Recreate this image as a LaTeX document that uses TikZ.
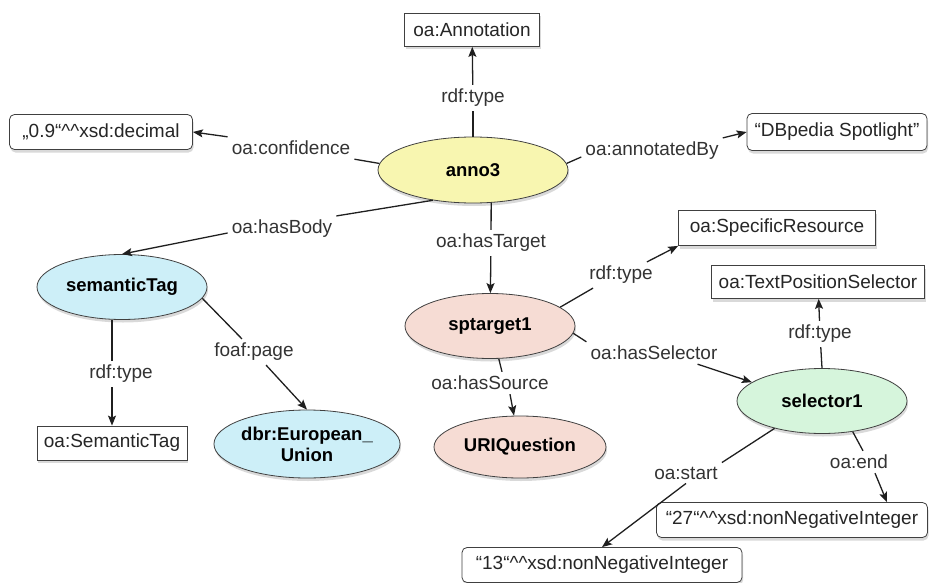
\documentclass[tikz,border=0pt]{standalone}
\usepackage{fontspec}
\setmainfont{Liberation Sans}
\usetikzlibrary{shapes.geometric,arrows.meta,shadows}
\definecolor{cyel}{HTML}{F8F6B0}
\definecolor{cblue}{HTML}{CDEFF8}
\definecolor{cpink}{HTML}{F6DCD4}
\definecolor{cgreen}{HTML}{D6F5DC}
\begin{document}
\begin{tikzpicture}[x=1pt,y=-1pt,
  every node/.style={font=\fontsize{19}{22}\selectfont},
  shad/.style={drop shadow={shadow xshift=1pt,shadow yshift=-3pt,opacity=0.3}},
  box/.style={draw=black!75, line width=0.8pt, fill=white, text=black!85, minimum height=34pt, inner sep=0pt, shad},
  lit/.style={box, rounded corners=5pt},
  res/.style={ellipse, draw=black!75, line width=0.8pt, inner sep=0pt, font=\fontsize{18.5}{21}\selectfont\bfseries, shad},
  lab/.style={inner sep=4pt, text=black!80},
  con/.style={line width=1.3pt, draw=black!88},
  arr/.style={con, -{Stealth[length=10pt,width=8pt,inset=2pt]}}
]
\useasboundingbox (0,0) rectangle (931,583);
% boxes and resources
\node[box, minimum width=135pt, minimum height=33pt] (ann) at (472,30) {oa:Annotation};
\node[lit, minimum width=183pt, minimum height=35pt] (dec) at (101,132) {„0.9“\textasciicircum\textasciicircum xsd:decimal};
\node[lit, minimum width=180pt, minimum height=37pt] (dbp) at (837,132) {“DBpedia Spotlight"};
\node[res, fill=cyel, minimum width=190pt, minimum height=66pt] (anno) at (473,170) {anno3};
\node[res, fill=cblue, minimum width=170pt, minimum height=65pt] (stag) at (122,287) {semanticTag};
\node[box, minimum width=150pt] (stbox) at (112,443) {oa:SemanticTag};
\node[res, fill=cblue, minimum width=176pt, minimum height=68pt, align=center] (eu) at (307,444) {dbr:European\_\\Union};
\node[res, fill=cpink, minimum width=170pt, minimum height=65pt] (sp) at (490,326) {sptarget1};
\node[res, fill=cpink, minimum width=172pt, minimum height=62pt] (uri) at (520,447) {URIQuestion};
\node[box, minimum width=197pt, minimum height=35pt] (spec) at (777,228) {oa:SpecificResource};
\node[box, minimum width=213pt, minimum height=33pt] (tps) at (818,282) {oa:TextPositionSelector};
\node[res, fill=cgreen, minimum width=170pt, minimum height=65pt] (sel) at (822,401) {selector1};
\node[lit, minimum width=271pt, minimum height=35pt] (n27) at (792,520) {“27“\textasciicircum\textasciicircum xsd:nonNegativeInteger};
\node[lit, minimum width=280pt, minimum height=35pt] (n13) at (602,565) {“13“\textasciicircum\textasciicircum xsd:nonNegativeInteger};
% labels
\node[lab] (l1) at (473,98) {rdf:type};
\node[lab] (lconf) at (291,148) {oa:confidence};
\node[lab] (lby) at (652,151) {oa:annotatedBy};
\node[lab] (lbody) at (282,229) {oa:hasBody};
\node[lab] (lt) at (491,243) {oa:hasTarget};
\node[lab] (lst) at (121,374) {rdf:type};
\node[lab] (lfoaf) at (254,352) {foaf:page};
\node[lab] (lsrc) at (490,383) {oa:hasSource};
\node[lab] (lsp) at (621,275) {rdf:type};
\node[lab] (lhs) at (654,353) {oa:hasSelector};
\node[lab] (lsel) at (820,334) {rdf:type};
\node[lab] (lstart) at (686,473) {oa:start};
\node[lab] (lend) at (859,462) {oa:end};
% connectors
\draw[con] (anno.90) -- (l1);
\draw[arr] (l1) -- (ann);
\draw[con] (anno.176) -- (lconf.south east);
\draw[arr] (lconf.north west) -- (dec.east);
\draw[con] (anno.4) -- ([yshift=-6pt]lby.west);
\draw[arr] (lby.north east) -- (dbp.west);
\draw[con] (anno.217) -- (lbody.north east);
\draw[arr] ([yshift=-4pt]lbody.west) -- (stag.north);
\draw[con] (anno.-61) -- (lt);
\draw[arr] (lt) -- (sp);
\draw[con] (stag.south -| stbox.north) -- (lst.north -| stbox.north);
\draw[arr] (lst.south -| stbox.north) -- (stbox.north);
\draw[con] (stag.-8) -- ([xshift=-12pt]lfoaf.north);
\draw[arr] ([xshift=12pt]lfoaf.south) -- (eu.north);
\draw[con] (sp.-75) -- ([xshift=12pt]lsrc.north);
\draw[arr] ([xshift=20pt]lsrc.south) -- ([xshift=-6pt]uri.north);
\draw[con] (sp.15) -- ([xshift=8pt]lsp.south west);
\draw[arr] ([xshift=-10pt]lsp.north east) -- (spec.south west);
\draw[con] (sp.-5) -- (lhs.north west);
\draw[arr] ([xshift=-24pt]lhs.south east) -- (sel.165);
\draw[con] (sel.north) -- (lsel);
\draw[arr] (lsel) -- (tps);
\draw[con] (sel.-150) -- (lstart.north east);
\draw[arr] (lstart.south) -- (n13.north);
\draw[con] (sel.-45) -- ([xshift=4pt]lend.north);
\draw[arr] ([xshift=16pt]lend.south) -- ([xshift=95pt]n27.north);
\end{tikzpicture}
\end{document}
